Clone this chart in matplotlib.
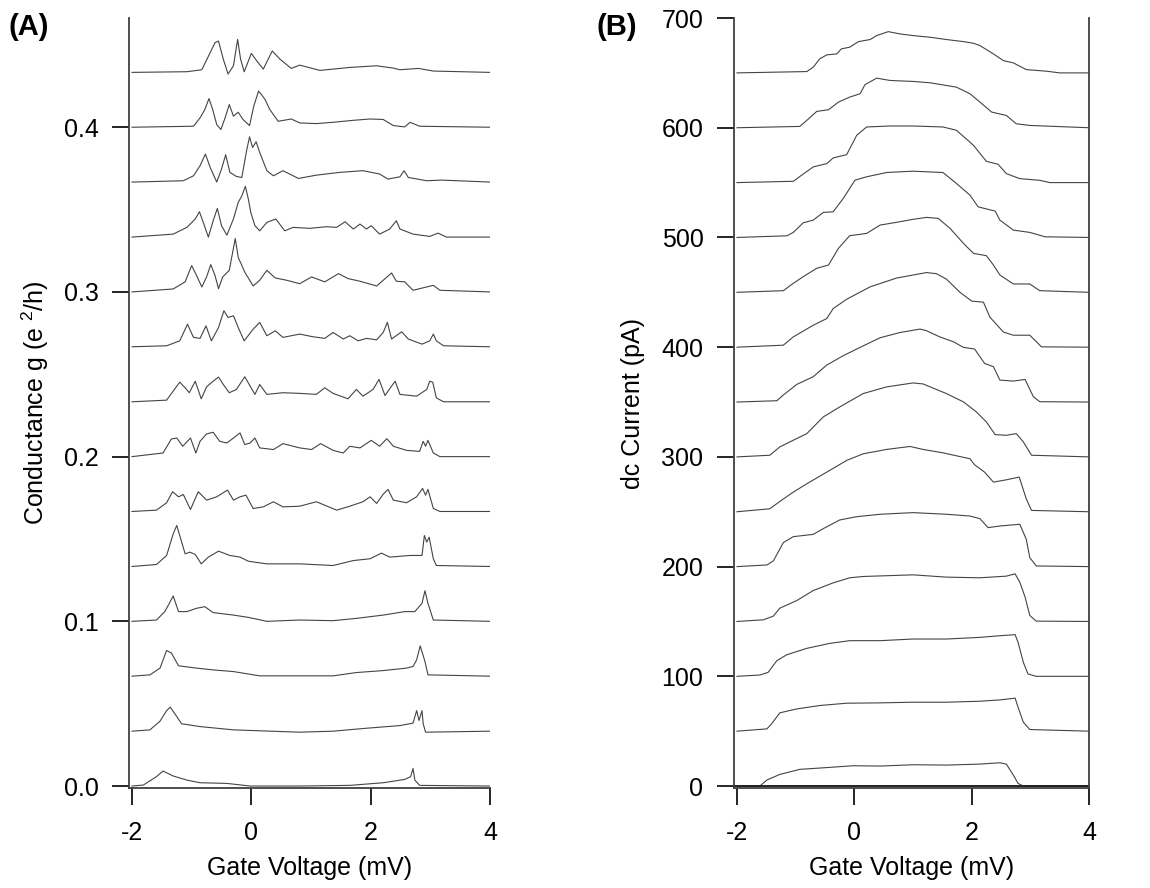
import matplotlib
matplotlib.use("Agg")
import matplotlib.pyplot as plt

plt.rcParams['font.family'] = ['Liberation Sans', 'DejaVu Sans']
plt.rcParams['mathtext.default'] = 'regular'
plt.rcParams['axes.unicode_minus'] = False

# ---- panel A: differential conductance traces, (gate voltage mV, g above baseline) ----
cond_offsets = [0.0, 0.0333, 0.0667, 0.1, 0.1333, 0.1667, 0.2,
                0.2333, 0.2667, 0.3, 0.3333, 0.3667, 0.4, 0.4333]

cond_00 = [(-2.00, 0), (-1.81, 0.0006), (-1.59, 0.0057), (-1.48, 0.0091), (-1.31, 0.0061),
           (-1.08, 0.0036), (-0.86, 0.002), (-0.41, 0.0016), (-0.02, 0), (0.81, 0),
           (1.65, 0.0004), (2.21, 0.002), (2.57, 0.004), (2.67, 0.0057), (2.71, 0.0107),
           (2.74, 0.0036), (2.82, 0.0004), (4.00, 0)]
cond_01 = [(-2.00, 0), (-1.70, 0.0008), (-1.53, 0.0061), (-1.42, 0.0125), (-1.36, 0.0146),
           (-1.28, 0.0105), (-1.17, 0.0045), (-0.86, 0.0028), (-0.30, 0.0008), (0.81, -0.0006),
           (1.37, 0), (1.93, 0.0018), (2.49, 0.0034), (2.71, 0.0049), (2.77, 0.0125),
           (2.81, 0.0065), (2.86, 0.0125), (2.88, 0.0045), (2.92, -0.0006), (4.00, 0)]
cond_02 = [(-2.00, 0), (-1.70, 0.0008), (-1.53, 0.0049), (-1.42, 0.0156), (-1.34, 0.014),
           (-1.22, 0.0063), (-0.92, 0.0049), (-0.64, 0.0038), (-0.30, 0.0028), (0.14, 0.0002),
           (0.81, 0.0002), (1.37, 0.0002), (1.76, 0.0022), (2.21, 0.0034), (2.60, 0.0049),
           (2.71, 0.0059), (2.77, 0.0099), (2.83, 0.0184), (2.91, 0.0089), (2.96, 0.0008),
           (4.00, 0)]
cond_03 = [(-2.00, 0), (-1.59, 0.0008), (-1.45, 0.0059), (-1.36, 0.0119), (-1.31, 0.0154),
           (-1.22, 0.0059), (-1.08, 0.0059), (-0.92, 0.0079), (-0.78, 0.0089), (-0.64, 0.0053),
           (-0.30, 0.0038), (-0.05, 0.0024), (0.26, 0), (0.81, 0.0008), (1.37, 0.0004),
           (1.76, 0.0018), (2.21, 0.0038), (2.57, 0.0059), (2.74, 0.0059), (2.86, 0.0109),
           (2.91, 0.0186), (2.96, 0.0109), (3.05, 0.0008), (4.00, 0)]
cond_04 = [(-2.00, 0), (-1.59, 0.0012), (-1.42, 0.0067), (-1.31, 0.0198), (-1.25, 0.0249),
           (-1.20, 0.0188), (-1.11, 0.0077), (-1.03, 0.0087), (-0.94, 0.0073), (-0.84, 0.0016),
           (-0.72, 0.0057), (-0.55, 0.0093), (-0.36, 0.0067), (-0.19, 0.0057), (-0.05, 0.0032),
           (0.26, 0.0016), (0.81, 0.0016), (1.37, 0.0006), (1.71, 0.0036), (1.99, 0.0047),
           (2.18, 0.0081), (2.32, 0.0057), (2.66, 0.0067), (2.86, 0.0067), (2.90, 0.0188),
           (2.94, 0.0148), (2.98, 0.0178), (3.05, 0.0047), (3.10, 0.0006), (4.00, 0)]
cond_05 = [(-2.00, 0), (-1.59, 0.0008), (-1.42, 0.0053), (-1.32, 0.012), (-1.22, 0.0089),
           (-1.14, 0.0103), (-1.02, 0.0012), (-0.89, 0.012), (-0.75, 0.0069), (-0.58, 0.0089),
           (-0.40, 0.013), (-0.30, 0.0069), (-0.19, 0.0089), (-0.09, 0.0099), (0.03, 0.0018),
           (0.20, 0.0028), (0.37, 0.0059), (0.53, 0.0028), (0.81, 0.0032), (1.09, 0.0059),
           (1.43, 0.0008), (1.65, 0.0032), (1.87, 0.0059), (1.99, 0.0089), (2.10, 0.0049),
           (2.21, 0.0105), (2.29, 0.0134), (2.38, 0.0069), (2.60, 0.0053), (2.77, 0.0089),
           (2.87, 0.014), (2.92, 0.0099), (2.96, 0.0134), (3.05, 0.0018), (3.16, 0), (4.00, 0)]
cond_06 = [(-2.00, 0), (-1.48, 0.0022), (-1.34, 0.0107), (-1.25, 0.0113), (-1.15, 0.0063),
           (-1.02, 0.0113), (-0.93, 0.0022), (-0.86, 0.0093), (-0.75, 0.0138), (-0.64, 0.0148),
           (-0.53, 0.0093), (-0.41, 0.0083), (-0.30, 0.0113), (-0.19, 0.0144), (-0.11, 0.0073),
           (-0.02, 0.0083), (0.06, 0.0113), (0.14, 0.0053), (0.37, 0.0043), (0.53, 0.0079),
           (0.81, 0.0053), (1.01, 0.0043), (1.16, 0.0079), (1.37, 0.0038), (1.54, 0.0022),
           (1.65, 0.0063), (1.82, 0.0053), (2.01, 0.0099), (2.15, 0.0063), (2.27, 0.0109),
           (2.38, 0.0063), (2.60, 0.0038), (2.82, 0.0032), (2.88, 0.0093), (2.92, 0.0063),
           (2.96, 0.0099), (3.05, 0.0022), (3.16, 0), (4.00, 0)]
cond_07 = [(-2.00, 0), (-1.42, 0.001), (-1.31, 0.0065), (-1.20, 0.0119), (-1.11, 0.0085),
           (-1.04, 0.0055), (-0.94, 0.0125), (-0.84, 0.0018), (-0.75, 0.0091), (-0.64, 0.0125),
           (-0.55, 0.015), (-0.47, 0.0105), (-0.37, 0.0055), (-0.25, 0.0075), (-0.11, 0.0152),
           (-0.02, 0.0095), (0.06, 0.0045), (0.14, 0.0105), (0.26, 0.0045), (0.53, 0.0055),
           (0.81, 0.0051), (1.09, 0.0045), (1.23, 0.0085), (1.37, 0.0051), (1.62, 0.0018),
           (1.76, 0.0075), (1.87, 0.0034), (2.04, 0.0075), (2.14, 0.0136), (2.24, 0.0038),
           (2.35, 0.0095), (2.41, 0.0125), (2.49, 0.0045), (2.77, 0.0034), (2.94, 0.0075),
           (2.99, 0.0125), (3.04, 0.0119), (3.10, 0.0024), (3.22, 0), (4.00, 0)]
cond_08 = [(-2.00, 0), (-1.42, 0.0006), (-1.20, 0.0036), (-1.07, 0.0137), (-0.97, 0.0057),
           (-0.86, 0.0051), (-0.76, 0.0127), (-0.67, 0.0036), (-0.55, 0.0117), (-0.46, 0.0219),
           (-0.39, 0.0178), (-0.30, 0.0188), (-0.22, 0.0117), (-0.12, 0.0036), (0.03, 0.0107),
           (0.14, 0.0148), (0.26, 0.0067), (0.40, 0.0097), (0.53, 0.0057), (0.81, 0.0077),
           (1.03, 0.0061), (1.23, 0.0051), (1.37, 0.0087), (1.54, 0.0047), (1.65, 0.0067),
           (1.79, 0.0036), (1.93, 0.0051), (2.10, 0.0042), (2.21, 0.0087), (2.28, 0.0148),
           (2.35, 0.0047), (2.52, 0.0091), (2.63, 0.0047), (2.86, 0.0016), (2.99, 0.0036),
           (3.05, 0.0077), (3.10, 0.0036), (3.22, 0.0006), (4.00, 0)]
cond_09 = [(-2.00, 0), (-1.31, 0.0018), (-1.11, 0.0061), (-1.00, 0.016), (-0.92, 0.0101),
           (-0.83, 0.003), (-0.75, 0.0091), (-0.68, 0.0166), (-0.61, 0.0101), (-0.55, 0.002),
           (-0.48, 0.0091), (-0.37, 0.0131), (-0.27, 0.0324), (-0.22, 0.021), (-0.11, 0.012),
           (0.03, 0.0036), (0.14, 0.0071), (0.26, 0.0131), (0.40, 0.0085), (0.59, 0.0071),
           (0.81, 0.005), (1.01, 0.0091), (1.23, 0.0061), (1.46, 0.0111), (1.62, 0.0081),
           (1.82, 0.0065), (2.10, 0.0036), (2.35, 0.0115), (2.43, 0.0065), (2.57, 0.0061),
           (2.71, 0.001), (3.05, 0.004), (3.16, 0.001), (4.00, 0)]
cond_10 = [(-2.00, 0), (-1.31, 0.0018), (-1.08, 0.0059), (-0.94, 0.011), (-0.87, 0.0154),
           (-0.81, 0.0093), (-0.72, 0), (-0.64, 0.0099), (-0.57, 0.0174), (-0.50, 0.0069),
           (-0.41, 0.0012), (-0.30, 0.011), (-0.22, 0.021), (-0.16, 0.025), (-0.10, 0.0308),
           (-0.05, 0.023), (-0.01, 0.015), (0.06, 0.0069), (0.14, 0.0038), (0.26, 0.0089),
           (0.41, 0.011), (0.56, 0.0038), (0.70, 0.0059), (0.98, 0.0053), (1.26, 0.0063),
           (1.43, 0.0059), (1.57, 0.0093), (1.71, 0.0049), (1.82, 0.0079), (1.93, 0.0049),
           (2.01, 0.0069), (2.15, 0.0018), (2.32, 0.0049), (2.43, 0.0099), (2.49, 0.0049),
           (2.71, 0.0018), (2.99, 0.0004), (3.13, 0.0024), (3.27, 0), (4.00, 0)]
cond_11 = [(-2.00, 0), (-1.14, 0.0008), (-0.97, 0.0038), (-0.86, 0.0099), (-0.77, 0.017),
           (-0.69, 0.0089), (-0.58, 0), (-0.50, 0.0079), (-0.43, 0.0166), (-0.36, 0.0059),
           (-0.25, 0.0034), (-0.16, 0.0028), (-0.08, 0.019), (-0.03, 0.0275), (0.02, 0.021),
           (0.08, 0.0245), (0.14, 0.018), (0.26, 0.0069), (0.37, 0.0038), (0.53, 0.0069),
           (0.79, 0.0022), (1.09, 0.0042), (1.48, 0.0059), (1.87, 0.0069), (2.15, 0.0049),
           (2.29, 0.0018), (2.49, 0.0032), (2.56, 0.0069), (2.63, 0.0028), (2.94, 0.0008),
           (3.19, 0.0012), (4.00, 0)]
cond_12 = [(-2.00, 0), (-0.97, 0.0006), (-0.86, 0.0057), (-0.78, 0.0107), (-0.71, 0.0174),
           (-0.65, 0.011), (-0.58, 0.0016), (-0.51, -0.0014), (-0.44, 0.0057), (-0.37, 0.0138),
           (-0.30, 0.0067), (-0.22, 0.0091), (-0.14, 0.0047), (-0.03, 0.001), (0.04, 0.0127),
           (0.12, 0.0219), (0.17, 0.0198), (0.23, 0.0168), (0.31, 0.0107), (0.45, 0.0036),
           (0.67, 0.005), (0.81, 0.0026), (1.09, 0.0022), (1.37, 0.003), (1.71, 0.0042),
           (1.99, 0.005), (2.21, 0.0047), (2.38, 0.001), (2.57, 0.0002), (2.66, 0.003),
           (2.82, 0.0006), (4.00, 0)]
cond_13 = [(-2.00, 0), (-1.08, 0.0004), (-0.83, 0.0016), (-0.69, 0.012), (-0.61, 0.018),
           (-0.55, 0.019), (-0.47, 0.008), (-0.39, -0.001), (-0.30, 0.004), (-0.23, 0.020),
           (-0.18, 0.008), (-0.12, 0.0004), (0.00, 0.0115), (0.09, 0.007), (0.20, 0.002),
           (0.35, 0.013), (0.48, 0.008), (0.67, 0.0024), (0.81, 0.0044), (1.15, 0.0012),
           (1.65, 0.003), (2.10, 0.004), (2.38, 0.0026), (2.49, 0.0016), (2.80, 0.0024),
           (3.05, 0.0008), (4.00, 0)]

cond_traces = [cond_00, cond_01, cond_02, cond_03, cond_04, cond_05, cond_06,
               cond_07, cond_08, cond_09, cond_10, cond_11, cond_12, cond_13]

# ---- panel B: dc current traces, (gate voltage mV, pA above baseline) ----
curr_offsets = [0, 50, 100, 150, 200, 250, 300, 350, 400, 450, 500, 550, 600, 650]

curr_00 = [(-2.00, 0), (-1.61, 0), (-1.49, 5.5), (-1.27, 10.6), (-0.93, 15.2), (-0.42, 17),
           (-0.02, 18.5), (0.44, 18.2), (1.00, 19.4), (1.57, 19.1), (2.14, 20), (2.48, 21.2),
           (2.59, 20), (2.71, 10), (2.79, 2.4), (2.88, 0), (4.00, 0)]
curr_01 = [(-2.00, 0), (-1.49, 2.1), (-1.41, 6.7), (-1.27, 16.7), (-0.98, 20.3), (-0.59, 23.4),
           (-0.13, 25.5), (0.44, 25.8), (1.00, 26.4), (1.57, 26.4), (2.14, 27.3), (2.48, 28.5),
           (2.74, 30.1), (2.79, 21.9), (2.88, 8.2), (2.99, 1.5), (4.00, 0)]
curr_02 = [(-2.00, 0), (-1.61, 1.2), (-1.47, 3.6), (-1.32, 14.3), (-1.15, 19.7), (-0.81, 25.5),
           (-0.42, 30), (-0.08, 32.5), (0.44, 32.5), (1.00, 34), (1.57, 34), (2.14, 35.5),
           (2.48, 37), (2.74, 38), (2.79, 31), (2.88, 12.8), (2.96, 2.1), (3.10, 0), (4.00, 0)]
curr_03 = [(-2.00, 0), (-1.55, 1.5), (-1.38, 4.9), (-1.27, 12.1), (-0.98, 19.1), (-0.70, 28.2),
           (-0.36, 35.2), (-0.08, 39.8), (0.15, 41), (1.00, 42.5), (1.57, 40.4), (2.14, 39.8),
           (2.59, 41.3), (2.74, 43.4), (2.82, 35.8), (2.91, 22.2), (2.99, 5.5), (3.10, 0.3),
           (4.00, 0)]
curr_04 = [(-2.00, 0), (-1.49, 1.5), (-1.38, 5.2), (-1.21, 21.9), (-1.04, 27.3), (-0.70, 29.4),
           (-0.53, 34.6), (-0.25, 42.5), (0.04, 45.5), (0.44, 47.7), (1.00, 49.2), (1.57, 47.7),
           (1.97, 46.1), (2.14, 43.7), (2.28, 35.5), (2.48, 37), (2.82, 38.6), (2.93, 24.9),
           (2.99, 8.2), (3.10, 0.6), (4.00, 0)]
curr_05 = [(-2.00, 0), (-1.44, 2.7), (-1.27, 9.4), (-1.04, 17.9), (-0.81, 25.5), (-0.47, 36.1),
           (-0.13, 46.8), (0.15, 52.8), (0.55, 56.8), (0.95, 59.5), (1.17, 56.8), (1.51, 53.7),
           (1.97, 48.3), (2.05, 42.8), (2.22, 36.1), (2.37, 27), (2.59, 29.1), (2.81, 31.6),
           (2.93, 11.8), (3.02, 1.2), (4.00, 0)]
curr_06 = [(-2.00, 0), (-1.44, 1.5), (-1.27, 9.1), (-1.04, 15.2), (-0.81, 21.2), (-0.53, 36.4),
           (-0.25, 45.5), (0.15, 57.7), (0.55, 63.8), (1.00, 67.4), (1.17, 66.5), (1.57, 57.7),
           (1.86, 50.1), (2.08, 41), (2.25, 31.9), (2.40, 20.3), (2.59, 19.7), (2.76, 21.2),
           (2.88, 13.7), (3.02, 1.5), (4.00, 0)]
curr_07 = [(-2.00, 0), (-1.32, 1.2), (-1.21, 6.4), (-0.98, 16.1), (-0.70, 23.1), (-0.47, 33.7),
           (-0.19, 42.2), (0.04, 48.3), (0.44, 58.6), (0.78, 63.4), (1.12, 66.5), (1.23, 65),
           (1.45, 59.5), (1.69, 54.9), (1.86, 49.8), (2.05, 48.3), (2.22, 35.2), (2.37, 32.2),
           (2.48, 20), (2.71, 19.1), (2.91, 20.6), (3.05, 4.9), (3.16, 0.3), (4.00, 0)]
curr_08 = [(-2.00, 0), (-1.21, 1.8), (-1.04, 9.4), (-0.70, 20), (-0.47, 26.1), (-0.36, 35.2),
           (-0.13, 43.7), (0.27, 55), (0.72, 63), (1.23, 68), (1.40, 67), (1.57, 62),
           (1.80, 50), (2.00, 42), (2.20, 41), (2.31, 27.4), (2.54, 13.8), (2.71, 10.9),
           (2.99, 10.9), (3.19, 0.3), (4.00, 0)]
curr_09 = [(-2.00, 0), (-1.21, 1.5), (-1.04, 8.2), (-0.87, 14.3), (-0.64, 21.9), (-0.44, 24.9),
           (-0.27, 40.1), (-0.08, 51.6), (0.21, 53.7), (0.44, 61.3), (0.72, 63.8), (1.00, 66.5),
           (1.23, 68.3), (1.43, 67.4), (1.63, 58.3), (1.86, 44.6), (2.03, 35.5), (2.25, 33.4),
           (2.37, 24.9), (2.48, 15.8), (2.71, 7.6), (2.99, 7.6), (3.16, 1.5), (4.00, 0)]
curr_10 = [(-2.00, 0), (-1.15, 1.5), (-1.04, 4.6), (-0.87, 13.4), (-0.70, 15.8), (-0.53, 22.8),
           (-0.36, 23.4), (-0.19, 35.5), (-0.08, 44.6), (0.01, 52.2), (0.21, 55.3), (0.55, 59.2),
           (1.00, 60.4), (1.51, 59.2), (1.74, 49.2), (1.97, 38.6), (2.11, 27.9), (2.40, 24),
           (2.48, 15.8), (2.71, 6.7), (2.99, 4.6), (3.25, 0.6), (4.00, 0)]
curr_11 = [(-2.00, 0), (-1.04, 1.2), (-0.90, 6.7), (-0.70, 14.3), (-0.47, 17.3), (-0.36, 22.5),
           (-0.13, 25.5), (0.04, 43.1), (0.21, 50.7), (0.61, 51.6), (1.00, 51.6), (1.51, 50.7),
           (1.74, 47.7), (2.03, 34), (2.25, 19.4), (2.45, 16.7), (2.59, 8.2), (2.82, 3.6),
           (3.16, 2.1), (3.33, 0), (4.00, 0)]
curr_12 = [(-2.00, 0), (-0.93, 1.2), (-0.81, 6.7), (-0.64, 14.9), (-0.44, 16.4), (-0.27, 23.4),
           (-0.08, 27.9), (0.10, 31), (0.18, 39.2), (0.38, 45.2), (0.61, 43.1), (1.00, 42.2),
           (1.29, 41), (1.74, 37), (1.97, 31), (2.14, 23.4), (2.34, 14.3), (2.59, 11.2),
           (2.76, 3.6), (2.99, 2.1), (4.00, 0)]
curr_13 = [(-2.00, 0), (-0.81, 1.2), (-0.70, 5.2), (-0.59, 12.8), (-0.47, 16.4), (-0.30, 17.3),
           (-0.22, 21.9), (-0.08, 23.4), (0.07, 28.5), (0.27, 30.4), (0.38, 34), (0.58, 37.6),
           (0.78, 35.5), (1.00, 34), (1.29, 32.5), (1.57, 30.4), (1.86, 28.5), (2.03, 27),
           (2.14, 24.9), (2.37, 17.3), (2.54, 11.2), (2.71, 9.1), (2.93, 3), (3.28, 1.5),
           (3.50, 0), (4.00, 0)]

curr_traces = [curr_00, curr_01, curr_02, curr_03, curr_04, curr_05, curr_06,
               curr_07, curr_08, curr_09, curr_10, curr_11, curr_12, curr_13]

LINE = '#444444'
SPINE = '#404040'
FS = 18


def style_axes(ax, right_spine=False):
    ax.spines['top'].set_visible(False)
    ax.spines['right'].set_visible(right_spine)
    for side in ('left', 'bottom', 'right'):
        ax.spines[side].set_linewidth(1.3)
        ax.spines[side].set_color(SPINE)
    ax.tick_params(direction='out', length=12, width=1.2, color='black',
                   labelsize=FS, right=False, top=False)
    ax.tick_params(axis='y', pad=10)
    ax.tick_params(axis='x', pad=12)


fig = plt.figure(figsize=(11.5, 8.88), dpi=100)
ax_a = fig.add_axes([0.1122, 0.1126, 0.3139, 0.8671])
ax_b = fig.add_axes([0.6383, 0.1126, 0.3087, 0.8671])

# panel A
for off, pts in zip(cond_offsets, cond_traces):
    v = [p[0] for p in pts]
    g = [off + p[1] for p in pts]
    ax_a.plot(v, g, color=LINE, lw=0.8)
ax_a.set_xlim(-2.05, 4.0)
ax_a.set_ylim(-0.0012, 0.4663)
ax_a.set_xticks([-2, 0, 2, 4])
ax_a.set_yticks([0.0, 0.1, 0.2, 0.3, 0.4])
ax_a.set_yticklabels(['0.0', '0.1', '0.2', '0.3', '0.4'])
style_axes(ax_a)
ax_a.set_xlabel('Gate Voltage (mV)', fontsize=FS, labelpad=8)
ax_a.set_ylabel('Conductance g (e $^{2}$/h)', fontsize=FS, labelpad=9)

# panel B
for off, pts in zip(curr_offsets, curr_traces):
    v = [p[0] for p in pts]
    i = [off + p[1] for p in pts]
    ax_b.plot(v, i, color=LINE, lw=0.8)
ax_b.axhline(0, color='#222222', lw=1.4)
ax_b.set_xlim(-2.05, 4.0)
ax_b.set_ylim(-1.8, 699.5)
ax_b.set_xticks([-2, 0, 2, 4])
ax_b.set_yticks([0, 100, 200, 300, 400, 500, 600, 700])
style_axes(ax_b, right_spine=True)
ax_b.set_xlabel('Gate Voltage (mV)', fontsize=FS, labelpad=8)
ax_b.set_ylabel('dc Current (pA)', fontsize=FS, labelpad=12)

fig.text(0.007, 0.985, '(A)', fontsize=21, fontweight='bold', va='top', ha='left')
fig.text(0.519, 0.985, '(B)', fontsize=21, fontweight='bold', va='top', ha='left')

fig.savefig('out.png', dpi=100)
